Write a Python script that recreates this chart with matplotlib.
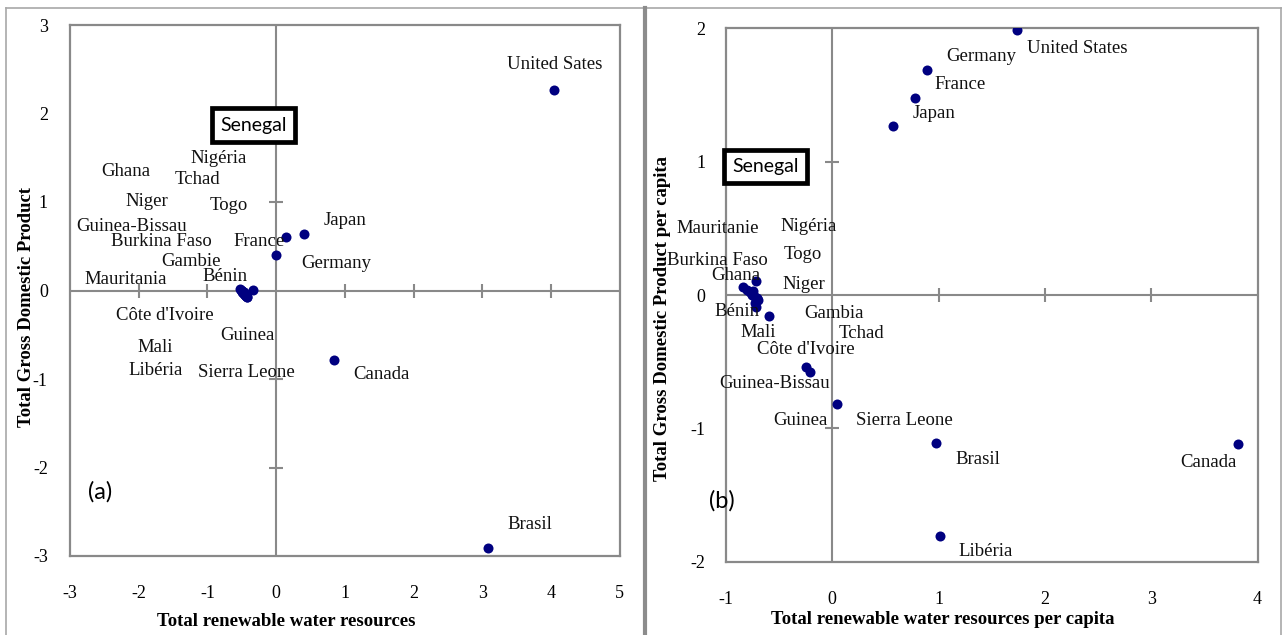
import matplotlib
matplotlib.use("Agg")
import matplotlib.pyplot as plt
from matplotlib.lines import Line2D

# ---- data, panel (a): total values ----
countries_a = ["United Sates", "Japan", "France", "Germany", "Canada", "Brasil",
               "Senegal", "Nigéria", "Ghana", "Tchad", "Niger", "Togo",
               "Guinea-Bissau", "Burkina Faso", "Gambie", "Mauritania", "Bénin",
               "Côte d'Ivoire", "Guinea", "Mali", "Libéria", "Sierra Leone"]
water_a = [4.04, 0.40, 0.15, 0.00, 0.85, 3.08,
           -0.47, -0.33, -0.50, -0.44, -0.45, -0.52,
           -0.48, -0.46, -0.51, -0.42, -0.49,
           -0.44, -0.45, -0.47, -0.50, -0.43]
gdp_a = [2.27, 0.64, 0.60, 0.40, -0.79, -2.91,
         -0.02, 0.01, 0.00, -0.06, -0.05, 0.02,
         -0.03, -0.04, 0.01, -0.07, -0.02,
         -0.06, -0.05, -0.03, 0.00, -0.07]

# ---- data, panel (b): per capita values ----
countries_b = ["United States", "Germany", "France", "Japan", "Canada", "Brasil",
               "Libéria", "Guinea", "Sierra Leone", "Guinea-Bissau", "Mali",
               "Ghana", "Burkina Faso", "Mauritanie", "Nigéria", "Togo", "Bénin",
               "Niger", "Tchad", "Gambia", "Côte d'Ivoire", "Senegal"]
water_b = [1.74, 0.89, 0.78, 0.57, 3.82, 0.98,
           1.01, 0.045, -0.21, -0.25, -0.60,
           -0.84, -0.80, -0.77, -0.72, -0.76, -0.74,
           -0.71, -0.70, -0.73, -0.72, -0.75]
gdp_b = [1.99, 1.69, 1.475, 1.27, -1.12, -1.11,
         -1.81, -0.82, -0.575, -0.54, -0.16,
         0.06, 0.04, 0.02, 0.105, 0.00, -0.01,
         -0.02, -0.04, -0.06, -0.09, 0.03]

# label centres (data coords)
labels_a = {"United Sates": (4.05, 2.55), "Japan": (1.0, 0.79), "France": (-0.25, 0.55),
            "Germany": (0.88, 0.31), "Canada": (1.54, -0.95), "Brasil": (3.69, -2.64),
            "Nigéria": (-0.83, 1.49), "Ghana": (-2.19, 1.34), "Tchad": (-1.14, 1.25),
            "Niger": (-1.88, 1.01), "Togo": (-0.69, 0.96), "Guinea-Bissau": (-2.10, 0.72),
            "Burkina Faso": (-1.67, 0.55), "Gambie": (-1.24, 0.33), "Mauritania": (-2.19, 0.12),
            "Bénin": (-0.74, 0.16), "Côte d'Ivoire": (-1.62, -0.28), "Guinea": (-0.41, -0.51),
            "Mali": (-1.76, -0.64), "Libéria": (-1.76, -0.90), "Sierra Leone": (-0.43, -0.93)}
labels_b = {"United States": (2.30, 1.85), "Germany": (1.40, 1.79), "France": (1.20, 1.575),
            "Japan": (0.96, 1.36), "Mauritanie": (-1.08, 0.50), "Nigéria": (-0.22, 0.51),
            "Burkina Faso": (-1.08, 0.26), "Togo": (-0.28, 0.30), "Ghana": (-0.91, 0.145),
            "Niger": (-0.27, 0.075), "Bénin": (-0.90, -0.125), "Gambia": (0.02, -0.14),
            "Mali": (-0.70, -0.28), "Tchad": (0.27, -0.29), "Côte d'Ivoire": (-0.25, -0.41),
            "Guinea-Bissau": (-0.545, -0.66), "Guinea": (-0.30, -0.94),
            "Sierra Leone": (0.68, -0.94), "Brasil": (1.37, -1.23), "Canada": (3.54, -1.255),
            "Libéria": (1.445, -1.92)}

xticks_a = [-3, -2, -1, 0, 1, 2, 3, 4, 5]
yticks_a = [-3, -2, -1, 0, 1, 2, 3]
xticks_b = [-1, 0, 1, 2, 3, 4]
yticks_b = [-2, -1, 0, 1, 2]

SERIF = "Liberation Serif"
SANS = "Lato"
GRAY = "#898989"
DOT = "#000080"

W, H = 1282, 635
fig = plt.figure(figsize=(W / 100, H / 100), dpi=100)


def px_axes(x0, y0, x1, y1):
    return fig.add_axes([x0 / W, 1 - y1 / H, (x1 - x0) / W, (y1 - y0) / H])


def draw_panel(ax, xs, ys, names, labels, xt, yt, xlabel, ylabel, tag,
               xl_pos, yl_pos, sen_pos, tag_pos, xpad, ypad):
    ax.set_xlim(xt[0], xt[-1])
    ax.set_ylim(yt[0], yt[-1])
    for s in ax.spines.values():
        s.set_color(GRAY)
        s.set_linewidth(1.6)
    ax.set_xticks(xt)
    ax.set_yticks(yt)
    ax.set_xticklabels([str(v) for v in xt])
    ax.set_yticklabels([str(v) for v in yt])
    ax.tick_params(length=0, labelsize=13, pad=xpad, axis="x")
    ax.tick_params(length=0, labelsize=13, pad=ypad, axis="y")
    for lab in ax.get_xticklabels() + ax.get_yticklabels():
        lab.set_fontfamily(SERIF)
    # zero axes with cross ticks
    ax.axhline(0, color=GRAY, lw=1.5, zorder=1)
    ax.axvline(0, color=GRAY, lw=1.5, zorder=1)
    inner_x = [v for v in xt[1:-1] if v != 0]
    inner_y = [v for v in yt[1:-1] if v != 0]
    ax.plot(inner_x, [0] * len(inner_x), ls="none", marker="|", ms=9.5, mew=1.5,
            color=GRAY, zorder=1)
    ax.plot([0] * len(inner_y), inner_y, ls="none", marker="_", ms=10, mew=1.5,
            color=GRAY, zorder=1)
    ax.scatter(xs, ys, s=52, color=DOT, zorder=3, linewidths=0)
    for name, (lx, ly) in labels.items():
        ax.text(lx, ly, name, ha="center", va="center", fontsize=13.5,
                family=SERIF, color="#111111", zorder=4)
    ax.text(sen_pos[0], sen_pos[1], "Senegal", ha="center", va="center",
            fontsize=14, family=SANS, zorder=5,
            bbox=dict(boxstyle="square,pad=0.42", fc="white", ec="black", lw=3.4))
    ax.text(tag_pos[0], tag_pos[1], tag, ha="center", va="center", fontsize=17,
            family=SANS, transform=ax.transData)
    ax.text(xl_pos[0], xl_pos[1], xlabel, transform=ax.transAxes, ha="center",
            va="center", fontsize=13.5, weight="bold", family=SERIF)
    ax.text(yl_pos[0], yl_pos[1], ylabel, transform=ax.transAxes, ha="center",
            va="center", rotation=90, fontsize=13.5, weight="bold", family=SERIF)


ax_a = px_axes(70, 25, 619.6, 556)
draw_panel(ax_a, water_a, gdp_a, countries_a, labels_a, xticks_a, yticks_a,
           "Total renewable water resources", "Total Gross Domestic Product", "(a)",
           (0.393, -0.124), (-0.079, 0.469), (-0.33, 1.87), (-2.56, -2.27), 21, 16)

ax_b = px_axes(726, 28.3, 1257.5, 561.7)
draw_panel(ax_b, water_b, gdp_b, countries_b, labels_b, xticks_b, yticks_b,
           "Total renewable water resources per capita",
           "Total Gross Domestic Product per capita", "(b)",
           (0.407, -0.108), (-0.12, 0.456), (-0.63, 0.965), (-1.04, -1.54), 21, 15)

# outer panel frames
frame = "#a8a8a8"
fig.add_artist(Line2D([6 / W, 1], [1 - 8 / H, 1 - 8 / H], color=frame, lw=1.2,
                      transform=fig.transFigure))
fig.add_artist(Line2D([6 / W, 6 / W], [0, 1 - 8 / H], color=frame, lw=1.2,
                      transform=fig.transFigure))
fig.add_artist(Line2D([644.5 / W, 644.5 / W], [0, 1 - 8 / H], color="#8c8c8c", lw=3,
                      transform=fig.transFigure))
fig.add_artist(Line2D([1281 / W, 1281 / W], [0, 1 - 8 / H], color=frame, lw=1.2,
                      transform=fig.transFigure))

fig.savefig("out.png", dpi=100)
